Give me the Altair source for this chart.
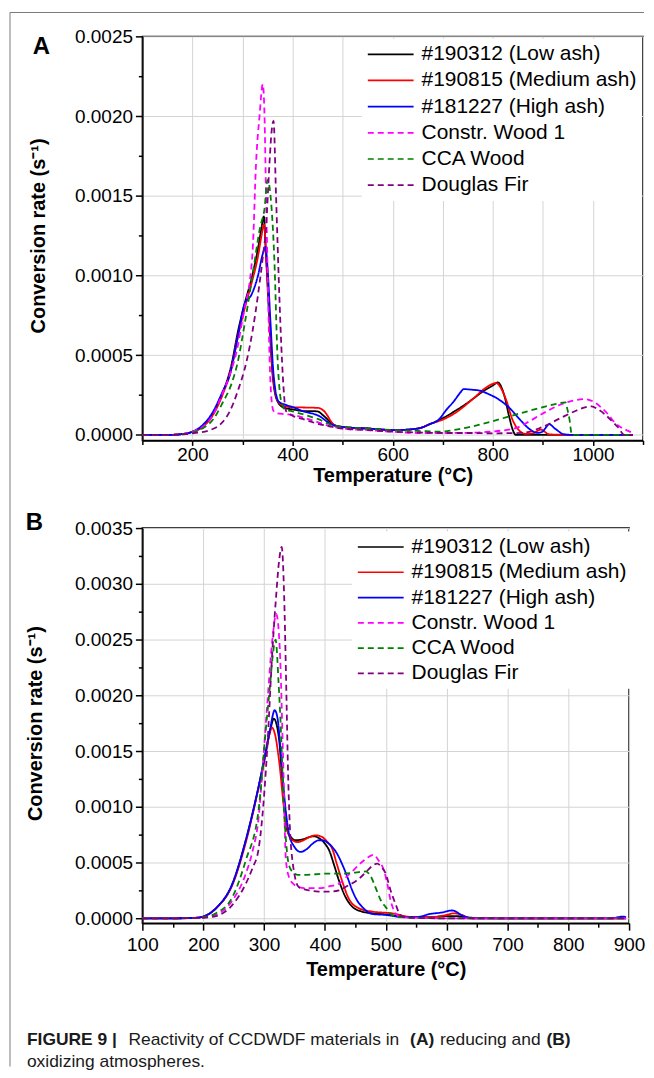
import altair as alt
import pandas as pd

NAMES = ["#190312 (Low ash)", "#190815 (Medium ash)", "#181227 (High ash)",
         "Constr. Wood 1", "CCA Wood", "Douglas Fir"]
COLORS = ["#000000", "#ff0000", "#0000ff", "#ff00ff", "#008000", "#800080"]
DASHES = [[1, 0], [1, 0], [1, 0], [6, 4], [6, 4], [6, 4]]

# ---------------- Panel A (reducing) ----------------
A_T_LOW = [100,150,180,200,220,242,260,278,291,304, 318,331,338,342.5,347,354,360,370,383,400,
           420,449,462,479,498,550,604,650,676,703, 722,742,762,782,800,810,823,833,840,846, 860,950,1080]
A_V_LOW = [0,0,.000005,.00002,.00005,.00014,.00026,.00044,.00065,.00082, .00098,.00117,.0013,.00137,.00112,.0007,.00038,.00021,.00017,.00016,
           .00015,.000148,.00012,.00007,.00005,.00004,.00003,.00004,.00007,.00011, .000145,.000185,.00023,.000277,.00031,.000329,.000246,.00011,.00003,0, 0,0,0]

A_T_MED = [100,150,180,200,220,242,260,278,291,304, 318,331,338,343,348,355,361,371,384,400,
           420,452,462,485,500,550,604,650,676,703, 727,760,787,807,815,826,840,853,866,880, 896,912,950,1080]
A_V_MED = [0,0,.000005,.00002,.00005,.00013,.00025,.00042,.00062,.00079, .00095,.00112,.00125,.00132,.00108,.00068,.00037,.00021,.00018,.000173,
           .000172,.000169,.000152,.000058,.00005,.00004,.00003,.00004,.00007,.0001, .000142,.000225,.000298,.000325,.0003,.000225,.00009,.000027,.000006,.00001, .000033,.000004,0,0]

A_T_HIGH = [100,150,180,200,220,242,260,275,291,304, 318,331,340,346,350,356,362,372,385,400,
            420,452,479,500,550,604,650,676,690,708, 722,735,742,760,775,790,808,833,853,873, 889,899,907,912,925,942,960,1080]
A_V_HIGH = [0,0,.000005,.00002,.00006,.00015,.00027,.00038,.00062,.00082, .00088,.001,.00113,.00118,.00105,.0007,.00038,.00021,.00019,.000175,
            .00015,.00012,.000064,.00005,.00004,.00003,.00004,.00007,.00009,.00016, .00021,.000265,.000287,.000283,.000277,.000258,.00023,.00017,.0001,.0000375, .0000125,.00002,.00005,.000067,.0000375,.000004,0,0]

A_T_CW1 = [100,150,180,200,220,242,260,275,290,298, 306,314,321,327,334,340.5,344,347,351,354,
           358,362,370,385,400,420,450,480,500,550, 600,650,700,750,793,845,870,892,915,938, 960,983,1000,1016,1030,1043,1060,1069,1079]
A_V_CW1 = [0,0,.000005,.00002,.00005,.00013,.00026,.00038,.00055,.00069, .00082,.00095,.0012,.0017,.002,.0022,.002,.0015,.0009,.00049,
           .00022,.00015,.000135,.00013,.000125,.00011,.00008,.00005,.00004,.00003, .00002,.000012,.000012,.000013,.00002,.000042,.00008,.00012,.00016,.000194, .000215,.000225,.00021,.000173,.00013,.000079,.00004,.000027,.0000125]

A_T_CCA = [100,150,180,200,220,242,260,278,290,304, 320,335,344,350,356,363.5,370,377,385,397,
           420,450,480,500,550,600,650,694,730,760, 793,826,860,892,920,945,949,953,958,1000, 1080]
A_V_CCA = [0,0,.000003,.000015,.00004,.0001,.0002,.00032,.00045,.00069, .001,.0013,.00142,.0016,.0015,.00111,.000485,.000214,.00016,.00015,
           .00013,.0001,.00006,.00005,.00004,.00003,.000025,.00002,.000035,.000054, .00008,.00011,.00014,.000167,.00019,.000204,.00016,.0001,0,0, 0]

A_T_DF = [100,150,200,235,260,275,290,308,320,331, 340,347,354,358,362,367,373.5,379,387,400,
          420,450,480,500,550,600,650,700,750,800, 859,898,938,965,984,997,1010,1023,1037,1050, 1063,1080]
A_V_DF = [0,0,.00001,.00003,.00008,.00015,.00027,.00046,.00065,.00088, .0011,.0013,.00171,.0019,.00197,.0015,.00088,.00046,.00015,.00012,
          .0001,.00007,.00005,.00004,.00003,.00002,.000015,.000012,.000012,.00001, .0000125,.000048,.00011,.00015,.000173,.000179,.00016,.000131,.00009,.000048, 0,0]

# ---------------- Panel B (oxidizing) ----------------
B_T_LOW = [100,150,190,200,221,248,270,291,302,310, 316,320,325,333,338,344,352,365,375,382,
           390,400,407,415,423,434,445,461,478,500, 520,545,575,596,615,640,700,800,895]
B_V_LOW = [0,0,.000005,.000015,.00009,.00031,.0007,.00118,.00147,.00168, .00179,.00175,.00159,.001,.00079,.00073,.0007,.00071,.00073,.000735,
           .00072,.00067,.00061,.00048,.00034,.00019,.000104,.00006,.000045,.000035, .00002,.00001,.00001,.00002,.00002,.000005,0,0,0]

B_T_MED = [100,150,190,200,221,248,270,291,302,308, 313,318,325,333,340,347,355,365,375,385,
           395,405,412,420,428,439,456,478,510,545, 575,600,612,625,640,700,800,895]
B_V_MED = [0,0,.000005,.000015,.00009,.0003,.00068,.00117,.00145,.00163, .00171,.00165,.0014,.00098,.00076,.0007,.000684,.0007,.00073,.000744,
           .00073,.00068,.000625,.00048,.00034,.00018,.00009,.00006,.000045,.00001, .00001,.00003,.000045,.00003,0,0,0,0]

B_T_HIGH = [100,150,190,200,221,248,270,291,302,310, 317.5,322,330,336,341,350,360,370,380,390,
            396,404,412,420,428,437,445,453,461,478, 500,530,550,574,590,609,628,645,700,800, 870,890,895]
B_V_HIGH = [0,0,.000005,.000015,.00009,.00031,.0007,.00118,.00147,.0017, .001866,.0018,.0013,.00095,.00076,.00064,.000595,.00062,.00067,.0007,
            .0007,.00068,.00064,.00058,.00049,.00037,.00025,.00016,.000104,.000039, .00003,.00001,.00001,.00004,.00005,.00007,.00002,0,0,0, 0,.000015,.00001]

B_T_CW1 = [100,150,200,221,248,270,281,291,297,305, 313.7,320,326,331,336,341,350,357,370,390,
           410,423,435,445,460,472,480,488,497,503, 508,512,516,525,600,700,800,895]
B_V_CW1 = [0,0,.000008,.00003,.00016,.0004,.0006,.0009,.0013,.0019, .0025,.00273,.0024,.0015,.00052,.00037,.0003,.00028,.00027,.00027,
           .00029,.00031,.00037,.00042,.0005,.00055,.00057,.00052,.00043,.0003, .00016,.00009,.000045,.00001,0,0,0,0]

B_T_CCA = [100,150,190,200,221,248,270,291,303,310, 314,319,324,328,332,336,340,346,355,370,
           400,430,450,467,475,483,492,500,510,520, 600,700,800,895]
B_V_CCA = [0,0,.000003,.00001,.000045,.00019,.00052,.00097,.0017,.0021, .00234,.0025,.0021,.00165,.00106,.0007,.0005,.00042,.00039,.00039,
           .0004,.0004,.00041,.00042,.00038,.00028,.00016,.0001,.00003,.00001, 0,0,0,0]

B_T_DF = [100,150,200,221,248,270,281,291,297,305, 313.7,320,324.6,329,333,336,340,345,357,375,
          390,410,423,440,450,465,478,486,493,500, 508,516,524,535,600,700,800,895]
B_V_DF = [0,0,.000005,.00002,.00012,.00031,.00045,.00062,.0009,.0015, .0024,.0029,.0032,.00333,.0029,.0022,.0012,.0006,.00028,.00025,
          .00024,.00024,.00025,.0003,.00033,.0004,.00047,.00049,.00046,.0004, .00025,.00013,.00003,.000005,0,0,0,0]

# ---------------- ticks ----------------
A_X_TICKS = [100, 200, 300, 400, 500, 600, 700, 800, 900, 1000, 1100]
A_Y_TICKS = [0, 0.00025, 0.0005, 0.00075, 0.001, 0.00125, 0.0015, 0.00175, 0.002, 0.00225, 0.0025]
B_X_TICKS = [100, 150, 200, 250, 300, 350, 400, 450, 500, 550, 600, 650, 700, 750, 800, 850, 900]
B_Y_TICKS = [0, 0.00025, 0.0005, 0.00075, 0.001, 0.00125, 0.0015, 0.00175, 0.002, 0.00225,
             0.0025, 0.00275, 0.003, 0.00325, 0.0035]

CAPTION = ["FIGURE 9 |", "Reactivity of CCDWDF materials in", "(A)", "reducing and", "(B)",
           "oxidizing atmospheres."]

FONT = "Liberation Sans"


def long_df(Ts, Vs):
    rows = []
    for name, T, V in zip(NAMES, Ts, Vs):
        for t, v in zip(T, V):
            rows.append({"T": t, "v": v, "series": name})
    return pd.DataFrame(rows)


dfA = long_df([A_T_LOW, A_T_MED, A_T_HIGH, A_T_CW1, A_T_CCA, A_T_DF],
              [A_V_LOW, A_V_MED, A_V_HIGH, A_V_CW1, A_V_CCA, A_V_DF])
dfB = long_df([B_T_LOW, B_T_MED, B_T_HIGH, B_T_CW1, B_T_CCA, B_T_DF],
              [B_V_LOW, B_V_MED, B_V_HIGH, B_V_CW1, B_V_CCA, B_V_DF])

Y_MINOR = "round(datum.value*20000) % 2 != 0"


def y_axis(vals, ty, tx):
    return alt.Axis(values=vals, format=".4f",
                    labelExpr="round(datum.value*20000) % 2 == 0 ? datum.label : ''",
                    gridOpacity={"condition": {"test": Y_MINOR, "value": 0}, "value": 1},
                    tickSize={"condition": {"test": Y_MINOR, "value": 4}, "value": 7},
                    labelPadding=3,
                    title="Conversion rate (s⁻¹)", titleX=tx, titleY=ty,
                    titleAlign="center", titleBaseline="middle")


def x_axis(vals, step, major, pad, ty):
    minor = f"datum.value % {step} != 0"
    return alt.Axis(values=vals, format="d",
                    labelExpr=f"datum.value % {step} == 0 ? datum.label : ''",
                    gridOpacity={"condition": {"test": "datum.value % 100 != 0", "value": 0}, "value": 1},
                    tickSize={"condition": {"test": minor, "value": 4}, "value": major},
                    labelPadding=pad,
                    title="Temperature (°C)", titleY=ty, titleBaseline="middle")


def legend(lx, ly, rowpad):
    return alt.Legend(title=None, orient="none", legendX=lx, legendY=ly,
                      symbolType="stroke", symbolSize=2116, symbolStrokeWidth=1.7,
                      clipHeight=21, labelOffset=7,
                      labelFont=FONT, labelFontSize=21, labelColor="black",
                      labelLimit=500, fillColor="white",
                      padding=5, rowPadding=rowpad)


def one(val):
    return pd.DataFrame({"k": [val]})


def panel(df, xdom, ydom, xaxis, yaxis, leg):
    return alt.Chart(df).mark_line(strokeWidth=1.8, interpolate="monotone").encode(
        x=alt.X("T:Q", scale=alt.Scale(domain=xdom, nice=False, zero=False), axis=xaxis),
        y=alt.Y("v:Q", scale=alt.Scale(domain=ydom, nice=False, zero=False), axis=yaxis),
        color=alt.Color("series:N", scale=alt.Scale(domain=NAMES, range=COLORS), legend=leg),
        strokeDash=alt.StrokeDash("series:N", scale=alt.Scale(domain=NAMES, range=DASHES), legend=leg),
    )


linesA = panel(dfA, [100, 1100], [-0.000035, 0.0025],
               x_axis(A_X_TICKS, 200, 5, 0, 35), y_axis(A_Y_TICKS, 200, -104), legend(220.5, 2.5, 4.3))
letterA = alt.Chart(one("A")).mark_text(font=FONT, fontSize=24, fontWeight="bold").encode(
    text="k:N", x=alt.value(-101.5), y=alt.value(11))
borderTop = alt.Chart(one(0)).mark_rule(color="#7a7a7a", strokeWidth=1).encode(
    x=alt.value(-133), x2=alt.value(504), y=alt.value(-24))
borderLeft = alt.Chart(one(0)).mark_rule(color="#7a7a7a", strokeWidth=1).encode(
    x=alt.value(-133), y=alt.value(-24), y2=alt.value(1035))
panelA = alt.layer(linesA, letterA, borderTop, borderLeft).properties(width=503, height=406)

linesB = panel(dfB, [100, 900], [-0.000044, 0.0035],
               x_axis(B_X_TICKS, 100, 7, 5, 47), y_axis(B_Y_TICKS, 196, -107), legend(210.5, 3.5, 3.4))
letterB = alt.Chart(one("B")).mark_text(font=FONT, fontSize=24, fontWeight="bold").encode(
    text="k:N", x=alt.value(-108.5), y=alt.value(-5))

cap_x = [-116, -14, 269, 299, 406, -116]
cap_y = [519, 519, 519, 519, 519, 541]
cap_w = ["bold", "normal", "bold", "normal", "bold", "normal"]
caps = []
for seg, cx, cy, fw in zip(CAPTION, cap_x, cap_y, cap_w):
    caps.append(alt.Chart(one(seg)).mark_text(font=FONT, fontSize=17.5, fontWeight=fw,
                                               align="left", baseline="alphabetic", color="#1a1a1a").encode(
        text="k:N", x=alt.value(cx), y=alt.value(cy)))
panelB = alt.layer(linesB, letterB, *caps).properties(width=489, height=397)

chart = alt.vconcat(panelA, panelB, spacing=88, bounds="flush").resolve_scale(
    color="independent", strokeDash="independent"
).resolve_legend(color="independent", strokeDash="independent").properties(
    padding={"left": 0, "top": 0, "right": 0, "bottom": 0}, background="white"
).configure_view(stroke="black", strokeWidth=1.5).configure_axis(
    domainColor="black", domainWidth=1.5, tickColor="black", tickWidth=1.5,
    gridColor="#d4d4d4", gridWidth=1, labelFont=FONT, labelFontSize=19, labelColor="black",
    labelFlush=False, labelOverlap=False,
    titleFont=FONT, titleFontSize=20, titleFontWeight="bold", titleColor="black"
)

chart.save("out.html", embed_options={"renderer": "svg", "actions": False})
